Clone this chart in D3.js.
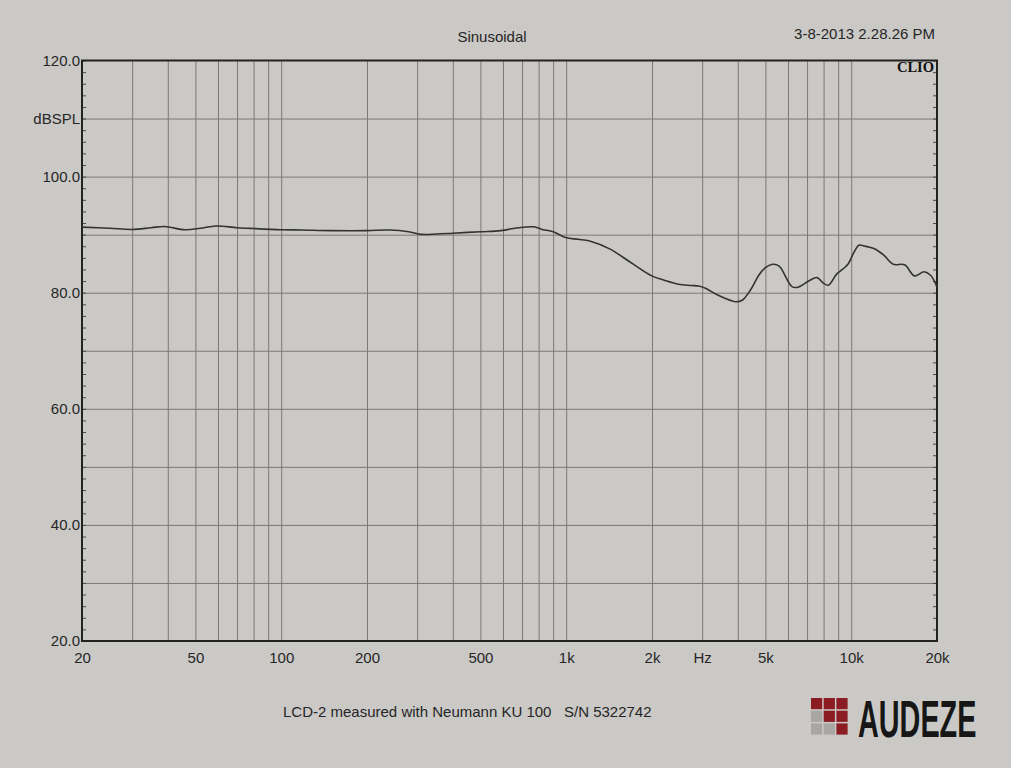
<!DOCTYPE html>
<html>
<head>
<meta charset="utf-8">
<script src="https://cdn.jsdelivr.net/npm/d3@7/dist/d3.min.js"></script>
<style>
  html, body { margin: 0; padding: 0; background: #cbc9c6; }
  svg { display: block; }
</style>
</head>
<body>
<svg id="chart" width="1011" height="768"></svg>
<script>
// ---- data ----
const freqs = [20, 25, 30, 35, 39, 46, 52, 59, 70, 80,
  100, 118, 150, 200, 240, 280, 310, 350, 400, 500,
  590, 680, 770, 824, 900, 995, 1100, 1208, 1426, 1685,
  1995, 2220, 2476, 2750, 2917, 3081, 3430, 3926, 4146, 4438,
  4746, 5000, 5291, 5510, 5657, 6215, 6549, 7090, 7586, 8000,
  8323, 8889, 9360, 9737, 10263, 10674, 11100, 12010, 12985, 14050,
  15400, 16660, 18020, 18980, 20000];
const spl = [91.3, 91.1, 90.9, 91.2, 91.4, 90.85, 91.1, 91.5, 91.2, 91.05,
  90.85, 90.8, 90.7, 90.7, 90.8, 90.5, 90.05, 90.1, 90.25, 90.5,
  90.7, 91.2, 91.35, 90.9, 90.5, 89.5, 89.2, 88.9, 87.5, 85.2,
  82.9, 82.1, 81.45, 81.25, 81.15, 80.75, 79.5, 78.45, 78.7, 80.5,
  83.05, 84.3, 84.9, 84.75, 84.3, 81.0, 81.0, 82.0, 82.6, 81.6,
  81.3, 83.2, 84.1, 84.9, 87.1, 88.2, 88.05, 87.6, 86.5, 84.9,
  84.8, 82.9, 83.6, 83.0, 81.0];

const xTickValues = [20, 50, 100, 200, 500, 1000, 2000, 3000, 5000, 10000, 20000];
const xTickLabels = ["20", "50", "100", "200", "500", "1k", "2k", "Hz", "5k", "10k", "20k"];
const xGridValues = [30, 40, 50, 60, 70, 80, 90, 100, 200, 300, 400, 500, 600, 700, 800, 900,
  1000, 2000, 3000, 4000, 5000, 6000, 7000, 8000, 9000, 10000];
const yTickValues = [20, 40, 60, 80, 100, 110, 120];
const yTickLabels = ["20.0", "40.0", "60.0", "80.0", "100.0", "dBSPL", "120.0"];
const yGridValues = [30, 40, 50, 60, 70, 80, 90, 100, 110];
const yMinorValues = d3.range(20, 121, 2);

const titleText = "Sinusoidal";
const dateText = "3-8-2013 2.28.26 PM";
const brandText = "CLIO";
const captionText = "LCD-2 measured with Neumann KU 100\u00a0\u00a0\u00a0S/N 5322742";
const logoText = "AUDEZE";
const logoCells = [1, 1, 1, 0, 1, 1, 0, 0, 1]; // 1 = red, 0 = grey

// ---- layout ----
const SANS = "'Liberation Sans', Arial, sans-serif";
const L = 82, R = 937, T = 60.5, B = 641;
const svg = d3.select("#chart");

const x = d3.scaleLog().domain([20, 20000]).range([L, R]);
const y = d3.scaleLinear().domain([20, 120]).range([B, T]);

// grid
svg.append("g")
  .attr("transform", `translate(0,${B})`)
  .call(d3.axisBottom(x).tickValues(xGridValues).tickSize(-(B - T)).tickFormat(""))
  .call(g => g.select(".domain").remove())
  .call(g => g.selectAll("line").attr("stroke", "#7b7974").attr("stroke-width", 1));

svg.append("g")
  .attr("transform", `translate(${L},0)`)
  .call(d3.axisLeft(y).tickValues(yGridValues).tickSize(-(R - L)).tickFormat(""))
  .call(g => g.select(".domain").remove())
  .call(g => g.selectAll("line").attr("stroke", "#7b7974").attr("stroke-width", 1));

// minor ticks inside left and right axes
svg.append("g")
  .attr("transform", `translate(${L},0)`)
  .call(d3.axisLeft(y).tickValues(yMinorValues).tickSize(-4).tickFormat(""))
  .call(g => g.select(".domain").remove())
  .call(g => g.selectAll("line").attr("stroke", "#4a4946"));
svg.append("g")
  .attr("transform", `translate(${R},0)`)
  .call(d3.axisRight(y).tickValues(yMinorValues).tickSize(-4).tickFormat(""))
  .call(g => g.select(".domain").remove())
  .call(g => g.selectAll("line").attr("stroke", "#4a4946"));

// frame
svg.append("rect")
  .attr("x", L).attr("y", T).attr("width", R - L).attr("height", B - T)
  .attr("fill", "none").attr("stroke", "#222").attr("stroke-width", 2);

// y labels
svg.append("g")
  .attr("transform", `translate(${L},0)`)
  .call(d3.axisLeft(y).tickValues(yTickValues).tickSize(0).tickPadding(2)
    .tickFormat((d, i) => yTickLabels[i]))
  .call(g => g.select(".domain").remove())
  .call(g => g.selectAll("text").style("font-size", "15px")
    .style("font-family", SANS).style("fill", "#262626"));

// x labels
svg.append("g")
  .attr("transform", `translate(0,${B})`)
  .call(d3.axisBottom(x).tickValues(xTickValues).tickSize(0).tickPadding(11)
    .tickFormat((d, i) => xTickLabels[i]))
  .call(g => g.select(".domain").remove())
  .call(g => g.selectAll("text").style("font-size", "15px")
    .style("font-family", SANS).style("fill", "#262626"));

// curve
const pts = freqs.map((f, i) => ({ f, v: spl[i] }));
svg.append("path")
  .datum(pts)
  .attr("fill", "none")
  .attr("stroke", "#333")
  .attr("stroke-width", 1.6)
  .attr("d", d3.line().x(d => x(d.f)).y(d => y(d.v)).curve(d3.curveCatmullRom.alpha(0.5)));

// texts
function txt(xp, yp, s, size, anchor) {
  return svg.append("text").attr("x", xp).attr("y", yp).attr("text-anchor", anchor || "start")
    .style("font-family", SANS).style("font-size", size + "px").style("fill", "#262626").text(s);
}
txt(492, 42, titleText, 15, "middle");
txt(935, 39, dateText, 15, "end");
txt(283, 717, captionText, 15, "start");
svg.append("text").attr("x", 934).attr("y", 71.5).attr("text-anchor", "end")
  .style("font-family", "'Liberation Serif', 'Times New Roman', serif")
  .style("font-size", "14.5px").style("font-weight", "bold").style("fill", "#111")
  .text(brandText);

// logo
const cell = 12.7, sq = 11.2, lx = 811, ly = 698;
svg.append("g").selectAll("rect").data(logoCells).join("rect")
  .attr("x", (d, i) => lx + (i % 3) * cell)
  .attr("y", (d, i) => ly + Math.floor(i / 3) * cell)
  .attr("width", sq).attr("height", sq)
  .attr("fill", d => d ? "#8a1c22" : "#a9a7a4");
svg.append("text")
  .attr("transform", "translate(858,736.5) scale(0.565,1)")
  .style("font-family", SANS).style("font-size", "51px").style("font-weight", "bold")
  .style("fill", "#161616").text(logoText);
</script>
</body>
</html>
